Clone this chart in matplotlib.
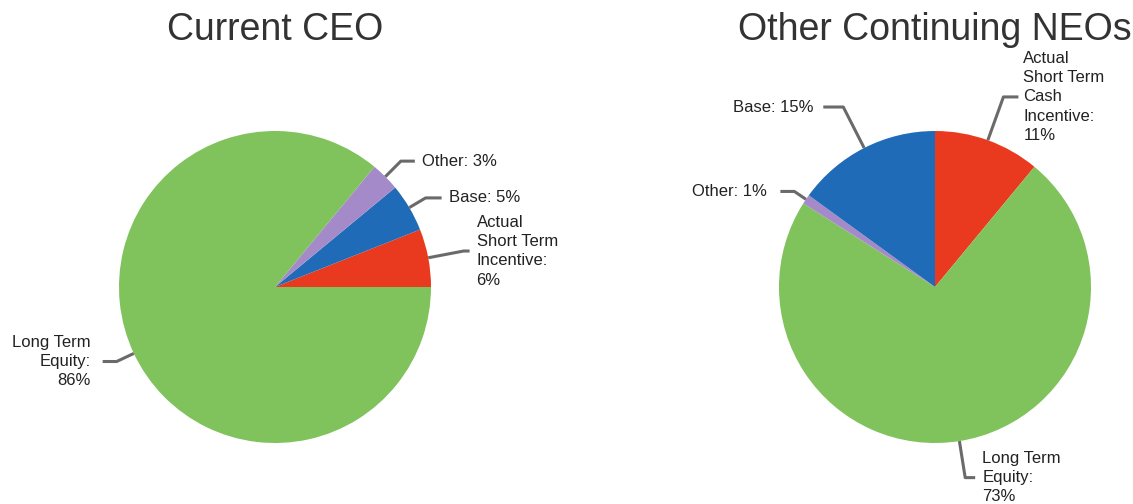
import numpy as np
import matplotlib.pyplot as plt

plt.rcParams['font.family'] = ['Liberation Sans', 'DejaVu Sans']

# CEO pay mix (percent), counter-clockwise from 3 o'clock
ceo_labels = ['Actual\nShort Term\nIncentive:\n6%', 'Base: 5%', 'Other: 3%',
              'Long Term\nEquity:\n86%']
ceo_values = [6, 5, 3, 86]
ceo_colors = ['#E93A1F', '#1F6BB7', '#A58AC9', '#80C25B']

# other NEOs pay mix (percent), clockwise from 12 o'clock
neo_labels = ['Actual\nShort Term\nCash\nIncentive:\n11%', 'Long Term\nEquity:\n73%',
              'Other: 1%', 'Base: 15%']
neo_values = [11, 73, 1, 15]
neo_colors = ['#E93A1F', '#80C25B', '#A58AC9', '#1F6BB7']

W, H = 1133, 504
fig = plt.figure(figsize=(W / 100, H / 100), dpi=100)
ax = fig.add_axes([0, 0, 1, 1])

R = 156
line_kw = dict(color='#6A6A6A', lw=2.2, solid_capstyle='butt')
txt_kw = dict(fontsize=12, color='#222222', linespacing=1.36)


def leader(cx, cy, ang, r1, dx_h, gap, ha, text):
    # line from the wedge rim out to r1, then a short horizontal run
    a = np.deg2rad(ang)
    x0, y0 = cx + R * np.cos(a), cy + R * np.sin(a)
    x1, y1 = cx + r1 * np.cos(a), cy + r1 * np.sin(a)
    x2 = x1 + dx_h
    ax.plot([x0, x1, x2], [y0, y1, y1], **line_kw)
    ax.text(x2 + gap, y1, text, ha=ha, va='center', **txt_kw)


# left pie
c1 = (275, H - 287)
ax.pie(ceo_values, colors=ceo_colors, startangle=0, counterclock=True,
       center=c1, radius=R, frame=True)

starts = np.cumsum([0] + ceo_values[:-1]) * 3.6
mids = starts + np.array(ceo_values) * 1.8
leader(*c1, mids[0], 192, 6, 7, 'left', ceo_labels[0])
leader(*c1, mids[1], 175, 16, 7, 'left', ceo_labels[1])
leader(*c1, mids[2], 178, 14, 7, 'left', ceo_labels[2])
leader(*c1, mids[3], 175, -14, -12, 'right', ceo_labels[3])

# right pie
c2 = (935, H - 287)
ax.pie(neo_values, colors=neo_colors, startangle=90, counterclock=False,
       center=c2, radius=R, frame=True)

starts = 90 - np.cumsum([0] + neo_values[:-1]) * 3.6
mids = starts - np.array(neo_values) * 1.8
leader(*c2, mids[0], 202, 15, 5, 'left', neo_labels[0])
leader(*c2, mids[1], 193, 10, 7, 'left', neo_labels[1])
leader(*c2, mids[2], 170, -14, -14, 'right', neo_labels[2])
leader(*c2, mids[3], 202, -20, -10, 'right', neo_labels[3])

ax.text(c1[0], H - 30, 'Current CEO', ha='center', va='center',
        fontsize=27, color='#333333')
ax.text(c2[0], H - 30, 'Other Continuing NEOs', ha='center', va='center',
        fontsize=27, color='#333333')

ax.set_xlim(0, W)
ax.set_ylim(0, H)
ax.set_aspect('equal')
ax.axis('off')

fig.savefig('out.png', dpi=100)
